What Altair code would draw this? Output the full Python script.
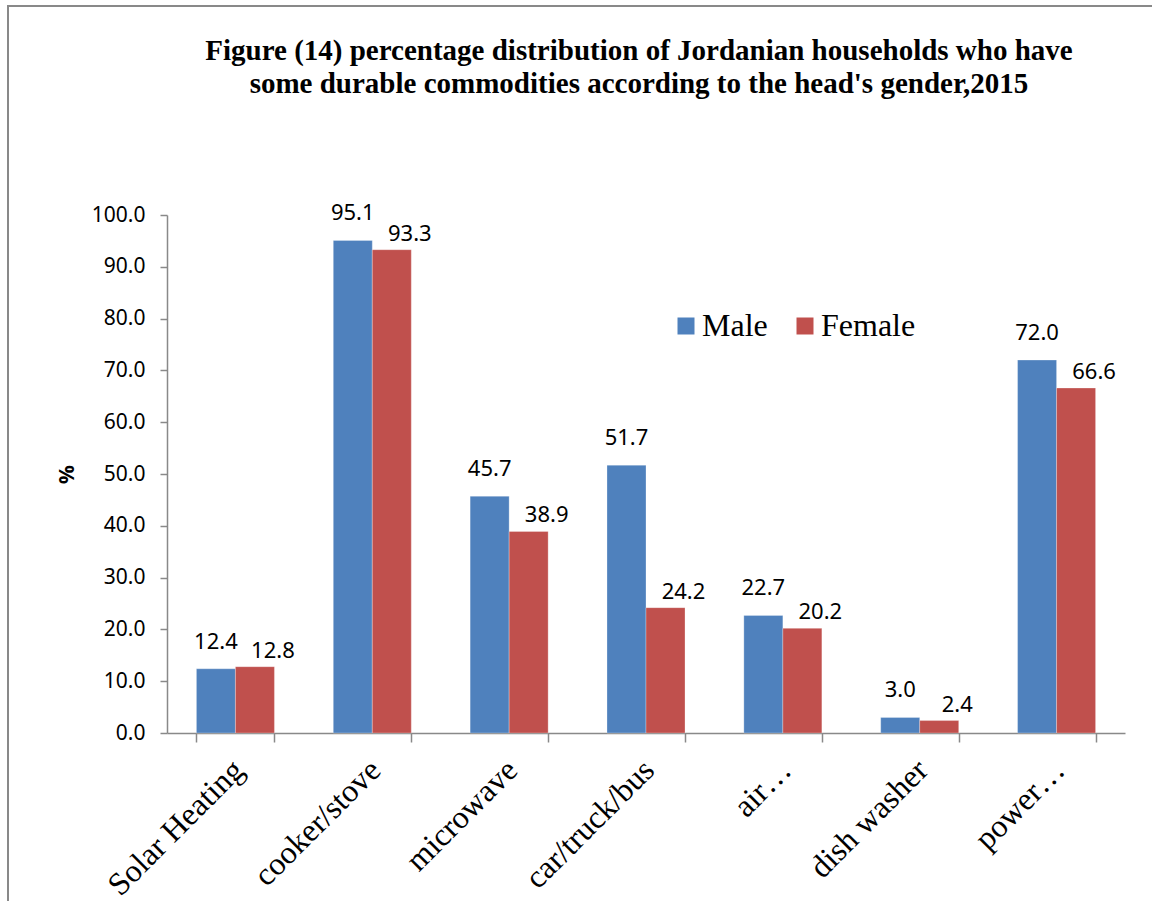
import altair as alt
import pandas as pd

# Durable commodities owned, by household head's gender (percent)
categories = ["Solar Heating", "cooker/stove", "microwave", "car/truck/bus",
              "air\u2026", "dish washer", "power\u2026"]
male = [12.4, 95.1, 45.7, 51.7, 22.7, 3.0, 72.0]
female = [12.8, 93.3, 38.9, 24.2, 20.2, 2.4, 66.6]
series = ["Male", "Female"]
colors = ["#4F81BD", "#C0504D"]

rows = []
for c, m, f in zip(categories, male, female):
    rows.append({"item": c, "sex": "Male", "pct": m})
    rows.append({"item": c, "sex": "Female", "pct": f})
df = pd.DataFrame(rows)

SERIF = "Liberation Serif"
SANS = "Noto Sans"
GRAY = "#898989"

x_enc = alt.X(
    "item:N", sort=categories, title=None,
    scale=alt.Scale(paddingInner=0.43, paddingOuter=0.215),
    axis=alt.Axis(labelAngle=-45, labelFont=SERIF, labelFontSize=32,
                  labelColor="black", labelPadding=12, labelOffset=-8,
                  tickBand="extent", tickSize=9, tickColor=GRAY,
                  domainColor=GRAY, domainWidth=1.5, tickWidth=1.5),
)
xoff = alt.XOffset("sex:N", sort=series, scale=alt.Scale(paddingInner=0, paddingOuter=0))
y_enc = alt.Y(
    "pct:Q", scale=alt.Scale(domain=[0, 100]),
    axis=alt.Axis(values=list(range(0, 101, 10)), format=".1f", grid=False,
                  labelFont=SANS, labelFontSize=21, labelColor="black",
                  labelPadding=15, tickSize=7, tickColor=GRAY,
                  domainColor=GRAY, domainWidth=1.5, tickWidth=1.5,
                  title="%", titleFont=SANS, titleFontSize=21,
                  titleFontWeight="bold", titleColor="black", titlePadding=14),
)
color_enc = alt.Color(
    "sex:N", sort=series, scale=alt.Scale(domain=series, range=colors),
    legend=alt.Legend(title=None, orient="none", legendX=503, legendY=95,
                      direction="horizontal", columns=2, symbolType="square",
                      symbolSize=289, symbolStrokeWidth=0, labelFont=SERIF,
                      labelFontSize=32, labelColor="black", labelOffset=0,
                      columnPadding=21),
)

bars = alt.Chart(df).mark_bar(stroke="white", strokeOpacity=0.35, strokeWidth=0.8).encode(
    x=x_enc, xOffset=xoff, y=y_enc, color=color_enc
)

male_labels = alt.Chart(df).transform_filter(alt.datum.sex == "Male").mark_text(
    font=SANS, fontSize=22, color="black", baseline="middle", dy=-27
).encode(x=alt.X("item:N", sort=categories), xOffset=xoff, y="pct:Q",
         text=alt.Text("pct:Q", format=".1f"))

female_labels = alt.Chart(df).transform_filter(alt.datum.sex == "Female").mark_text(
    font=SANS, fontSize=22, color="black", baseline="middle", dx=18, dy=-16
).encode(x=alt.X("item:N", sort=categories), xOffset=xoff, y="pct:Q",
         text=alt.Text("pct:Q", format=".1f"))

# Outer chart frame: an unfilled box whose right and bottom edges run off the page
frame = alt.Chart(df).mark_rect(fill=None, stroke=GRAY, strokeWidth=2).encode(
    x=alt.value(-159), x2=alt.value(1100), y=alt.value(-209), y2=alt.value(800)
)

chart = alt.layer(frame, bars, male_labels, female_labels).properties(
    width=958, height=518,
    title=alt.TitleParams(
        ["Figure (14) percentage distribution of Jordanian households who have",
         "some durable commodities according to the head's gender,2015"],
        font=SERIF, fontSize=29, fontWeight="bold", color="black",
        anchor="middle", dx=-7, offset=-94, lineHeight=33,
    ),
    autosize=alt.AutoSizeParams(type="none"),
    padding={"left": 167, "top": 215, "right": 27, "bottom": 168},
).configure(background="white").configure_view(stroke=None)

chart.save("out.html", embed_options={"renderer": "svg", "actions": False})
